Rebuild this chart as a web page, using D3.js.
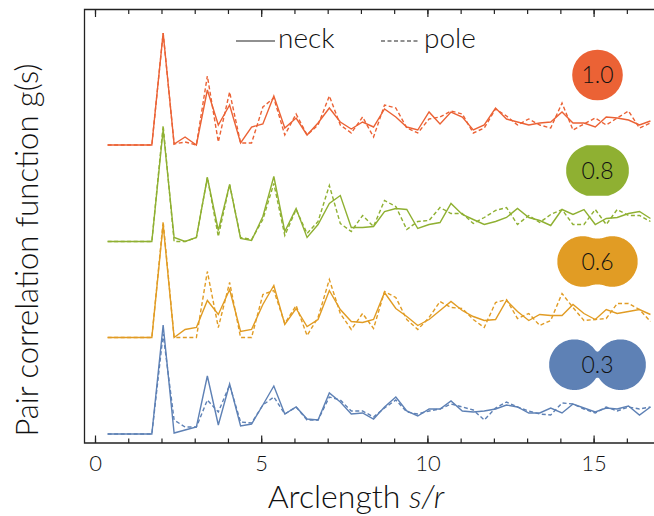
<!DOCTYPE html>
<html>
<head>
<meta charset="utf-8">
<script src="https://cdn.jsdelivr.net/npm/d3@7"></script>
<style>
  body { margin: 0; background: #fff; }
  svg text { font-family: "Lato", "Liberation Sans", sans-serif; font-weight: 300; fill: #111; }
</style>
</head>
<body>
<div id="chart"></div>
<script>
// arclength sample positions s/r
const arclength = [0.38, 0.71, 1.05, 1.38, 1.71, 2.05, 2.38, 2.71, 3.05, 3.38,
  3.71, 4.05, 4.38, 4.71, 5.05, 5.38, 5.71, 6.05, 6.38, 6.71,
  7.05, 7.38, 7.71, 8.05, 8.38, 8.71, 9.05, 9.38, 9.71, 10.05,
  10.38, 10.71, 11.05, 11.38, 11.71, 12.05, 12.38, 12.71, 13.05, 13.38,
  13.71, 14.05, 14.38, 14.71, 15.05, 15.38, 15.71, 16.05, 16.38, 16.71];

// g(s) for each shape, neck and pole (no vertical offset)
const redNeck = [0, 0, 0, 0, 0, 1.12, 0.01, 0.08, 0, 0.55, 0.20, 0.40, 0.02, 0.18, 0.21, 0.49, 0.17, 0.27, 0.10, 0.22,
  0.37, 0.23, 0.16, 0.23, 0.18, 0.36, 0.28, 0.18, 0.15, 0.33, 0.21, 0.33, 0.28, 0.15, 0.20, 0.37, 0.26, 0.23, 0.20, 0.22,
  0.23, 0.33, 0.22, 0.22, 0.18, 0.28, 0.27, 0.25, 0.20, 0.24];
const redPole = [0, 0, 0, 0, 0, 1.12, 0.01, 0.03, 0, 0.69, 0.03, 0.53, 0.02, 0.02, 0.38, 0.47, 0.10, 0.31, 0.10, 0.20,
  0.49, 0.20, 0.12, 0.28, 0.08, 0.40, 0.37, 0.17, 0.12, 0.26, 0.28, 0.34, 0.31, 0.12, 0.17, 0.36, 0.29, 0.20, 0.26, 0.20,
  0.17, 0.42, 0.15, 0.21, 0.27, 0.20, 0.27, 0.34, 0.17, 0.22];
const greenNeck = [0, 0, 0, 0, 0, 1.12, 0.04, 0, 0.04, 0.64, 0.11, 0.57, 0.03, 0.01, 0.25, 0.65, 0.10, 0.33, 0.04, 0.17,
  0.38, 0.46, 0.14, 0.14, 0.15, 0.30, 0.33, 0.32, 0.13, 0.17, 0.19, 0.38, 0.27, 0.22, 0.17, 0.20, 0.24, 0.33, 0.24, 0.21,
  0.16, 0.32, 0.27, 0.32, 0.17, 0.23, 0.24, 0.28, 0.30, 0.23];
const greenPole = [0, 0, 0, 0, 0, 1.16, 0, 0, 0.04, 0.64, 0.05, 0.57, 0.04, 0.02, 0.22, 0.58, 0.06, 0.32, 0.08, 0.20,
  0.56, 0.18, 0.10, 0.26, 0.15, 0.41, 0.35, 0.12, 0.20, 0.21, 0.34, 0.28, 0.28, 0.18, 0.24, 0.31, 0.34, 0.17, 0.26, 0.19,
  0.27, 0.32, 0.17, 0.17, 0.32, 0.17, 0.32, 0.26, 0.26, 0.20];
const orangeNeck = [0, 0, 0, 0, 0, 1.13, 0, 0.08, 0.10, 0.37, 0.23, 0.48, 0.06, 0.08, 0.33, 0.52, 0.13, 0.29, 0.11, 0.18,
  0.47, 0.28, 0.16, 0.15, 0.18, 0.45, 0.29, 0.21, 0.12, 0.18, 0.27, 0.36, 0.27, 0.21, 0.17, 0.18, 0.37, 0.26, 0.17, 0.23,
  0.22, 0.22, 0.33, 0.24, 0.18, 0.28, 0.24, 0.26, 0.28, 0.23];
const orangePole = [0, 0, 0, 0, 0, 1.16, 0, 0, 0, 0.66, 0.10, 0.55, 0, 0, 0.43, 0.47, 0.14, 0.32, 0.02, 0.20,
  0.58, 0.24, 0.08, 0.24, 0.09, 0.46, 0.40, 0.18, 0.08, 0.20, 0.36, 0.30, 0.29, 0.18, 0.10, 0.35, 0.38, 0.19, 0.24, 0.12,
  0.17, 0.44, 0.30, 0.17, 0.18, 0.19, 0.34, 0.34, 0.28, 0.16];
const blueNeck = [0, 0, 0, 0, 0, 1.09, 0.01, 0.04, 0.07, 0.58, 0.09, 0.50, 0.08, 0.10, 0.29, 0.48, 0.20, 0.27, 0.15, 0.14,
  0.41, 0.32, 0.20, 0.21, 0.15, 0.27, 0.37, 0.23, 0.18, 0.25, 0.25, 0.33, 0.23, 0.22, 0.23, 0.25, 0.29, 0.27, 0.21, 0.21,
  0.26, 0.21, 0.30, 0.26, 0.22, 0.26, 0.25, 0.28, 0.19, 0.27];
const bluePole = [0, 0, 0, 0, 0, 1.00, 0.14, 0.07, 0.07, 0.34, 0.22, 0.49, 0.12, 0.11, 0.29, 0.37, 0.20, 0.27, 0.14, 0.14,
  0.37, 0.34, 0.23, 0.23, 0.17, 0.26, 0.34, 0.22, 0.20, 0.23, 0.25, 0.30, 0.27, 0.24, 0.14, 0.26, 0.32, 0.27, 0.23, 0.20,
  0.19, 0.31, 0.30, 0.25, 0.21, 0.27, 0.23, 0.27, 0.25, 0.27];

// neck parameter of each shape, and the vertical shift used to stack the curves
const neckLabels = ["1.0", "0.8", "0.6", "0.3"];
const curveOffsets = [2.89, 1.925, 0.965, 0];

const xMajorTicks = [0, 5, 10, 15];
const xMinorTicks = [0, 1, 2, 3, 4, 5, 6, 7, 8, 9, 10, 11, 12, 13, 14, 15, 16];

const colors = ["#EB6235", "#8FB032", "#E19C24", "#5E81B5"];
const series = [
  {neck: redNeck, pole: redPole},
  {neck: greenNeck, pole: greenPole},
  {neck: orangeNeck, pole: orangePole},
  {neck: blueNeck, pole: bluePole}
];

const W = 654, H = 516;
const frame = {left: 84.5, top: 9.5, bottom: 443, right: 654};

const svg = d3.select("#chart").append("svg")
  .attr("width", W).attr("height", H);

const x = d3.scaleLinear().domain([0, 15]).range([95, 593.6]);
const y = d3.scaleLinear().domain([-0.09, 4.24]).range([443, 10]);

// frame lines
svg.append("path")
  .attr("d", `M${frame.right},${frame.top}H${frame.left}V${frame.bottom}H${frame.right}`)
  .attr("fill", "none").attr("stroke", "#222").attr("stroke-width", 1.3);

// bottom axis (ticks point inward)
svg.append("g").attr("transform", `translate(0,${frame.bottom})`)
  .call(d3.axisBottom(x).tickValues(xMinorTicks).tickSize(-4.5).tickFormat(""));
const bottomMajor = svg.append("g").attr("transform", `translate(0,${frame.bottom})`)
  .call(d3.axisBottom(x).tickValues(xMajorTicks).tickSize(-7.5).tickPadding(12));
bottomMajor.selectAll("text").style("font-size", "22px").attr("fill", "#222");

// top axis
svg.append("g").attr("transform", `translate(0,${frame.top})`)
  .call(d3.axisTop(x).tickValues(xMinorTicks).tickSize(-4.5).tickFormat(""));
svg.append("g").attr("transform", `translate(0,${frame.top})`)
  .call(d3.axisTop(x).tickValues(xMajorTicks).tickSize(-7.5).tickFormat(""));

svg.selectAll(".domain").remove();
svg.selectAll(".tick line").attr("stroke", "#222").attr("stroke-width", 1.2);

// axis titles
const xTitle = svg.append("text")
  .attr("x", 356).attr("y", 508)
  .attr("text-anchor", "middle")
  .style("font-size", "32px");
xTitle.append("tspan").text("Arclength ");
xTitle.append("tspan").style("font-style", "italic").text("s/r");

svg.append("text")
  .attr("transform", "translate(38,250) rotate(-90)")
  .attr("text-anchor", "middle")
  .style("font-size", "31px")
  .text("Pair correlation function g(s)");

// curves
const plot = svg.append("g");
series.forEach((sr, i) => {
  const line = d3.line()
    .x((d, k) => x(arclength[k]))
    .y(d => y(d + curveOffsets[i]));
  plot.append("path")
    .datum(sr.pole)
    .attr("d", line)
    .attr("fill", "none")
    .attr("stroke", colors[i])
    .attr("stroke-width", 1.4)
    .attr("stroke-dasharray", "4,2.5");
  plot.append("path")
    .datum(sr.neck)
    .attr("d", line)
    .attr("fill", "none")
    .attr("stroke", colors[i])
    .attr("stroke-width", 1.4);
});

// legend
const legend = svg.append("g");
legend.append("line").attr("x1", 236).attr("x2", 275).attr("y1", 41).attr("y2", 41)
  .attr("stroke", "#222").attr("stroke-width", 1.2);
legend.append("text").attr("x", 278).attr("y", 48).style("font-size", "28px").text("neck");
legend.append("line").attr("x1", 381).attr("x2", 420).attr("y1", 41).attr("y2", 41)
  .attr("stroke", "#222").attr("stroke-width", 1.2).attr("stroke-dasharray", "4,2.5");
legend.append("text").attr("x", 424).attr("y", 48).style("font-size", "28px").text("pole");

// shape icons: union of two circles with a smooth join at the neck
const iconR = 25.3;
const iconSep = [0, 6, 14.8, 23];
const iconY = [75, 170.5, 261.5, 364.7];
function smoothMax(a, b, k) {
  const h = Math.max(0, Math.min(1, 0.5 + 0.5 * (a - b) / k));
  return b + (a - b) * h + k * h * (1 - h);
}
function blobPath(d) {
  if (d === 0) return d3.arc()({innerRadius: 0, outerRadius: iconR, startAngle: 0, endAngle: 2 * Math.PI});
  const half = d + iconR;
  const n = 160;
  const top = [];
  for (let j = 0; j <= n; j++) {
    const px = -half + 2 * half * j / n;
    const y1 = Math.sqrt(Math.max(0, iconR * iconR - (px - d) * (px - d)));
    const y2 = Math.sqrt(Math.max(0, iconR * iconR - (px + d) * (px + d)));
    top.push([px, Math.min(iconR, smoothMax(y1, y2, 10))]);
  }
  const pts = top.map(t => [t[0], -t[1]]).concat(top.slice().reverse().map(t => [t[0], t[1]]));
  return d3.line().curve(d3.curveLinearClosed)(pts);
}
const icons = svg.append("g");
neckLabels.forEach((lab, i) => {
  const g = icons.append("g").attr("transform", `translate(597.5,${iconY[i]})`);
  g.append("path").attr("d", blobPath(iconSep[i])).attr("fill", colors[i]);
  g.append("text").attr("text-anchor", "middle").attr("dy", "0.36em")
    .style("font-size", "23px").text(lab);
});
</script>
</body>
</html>
